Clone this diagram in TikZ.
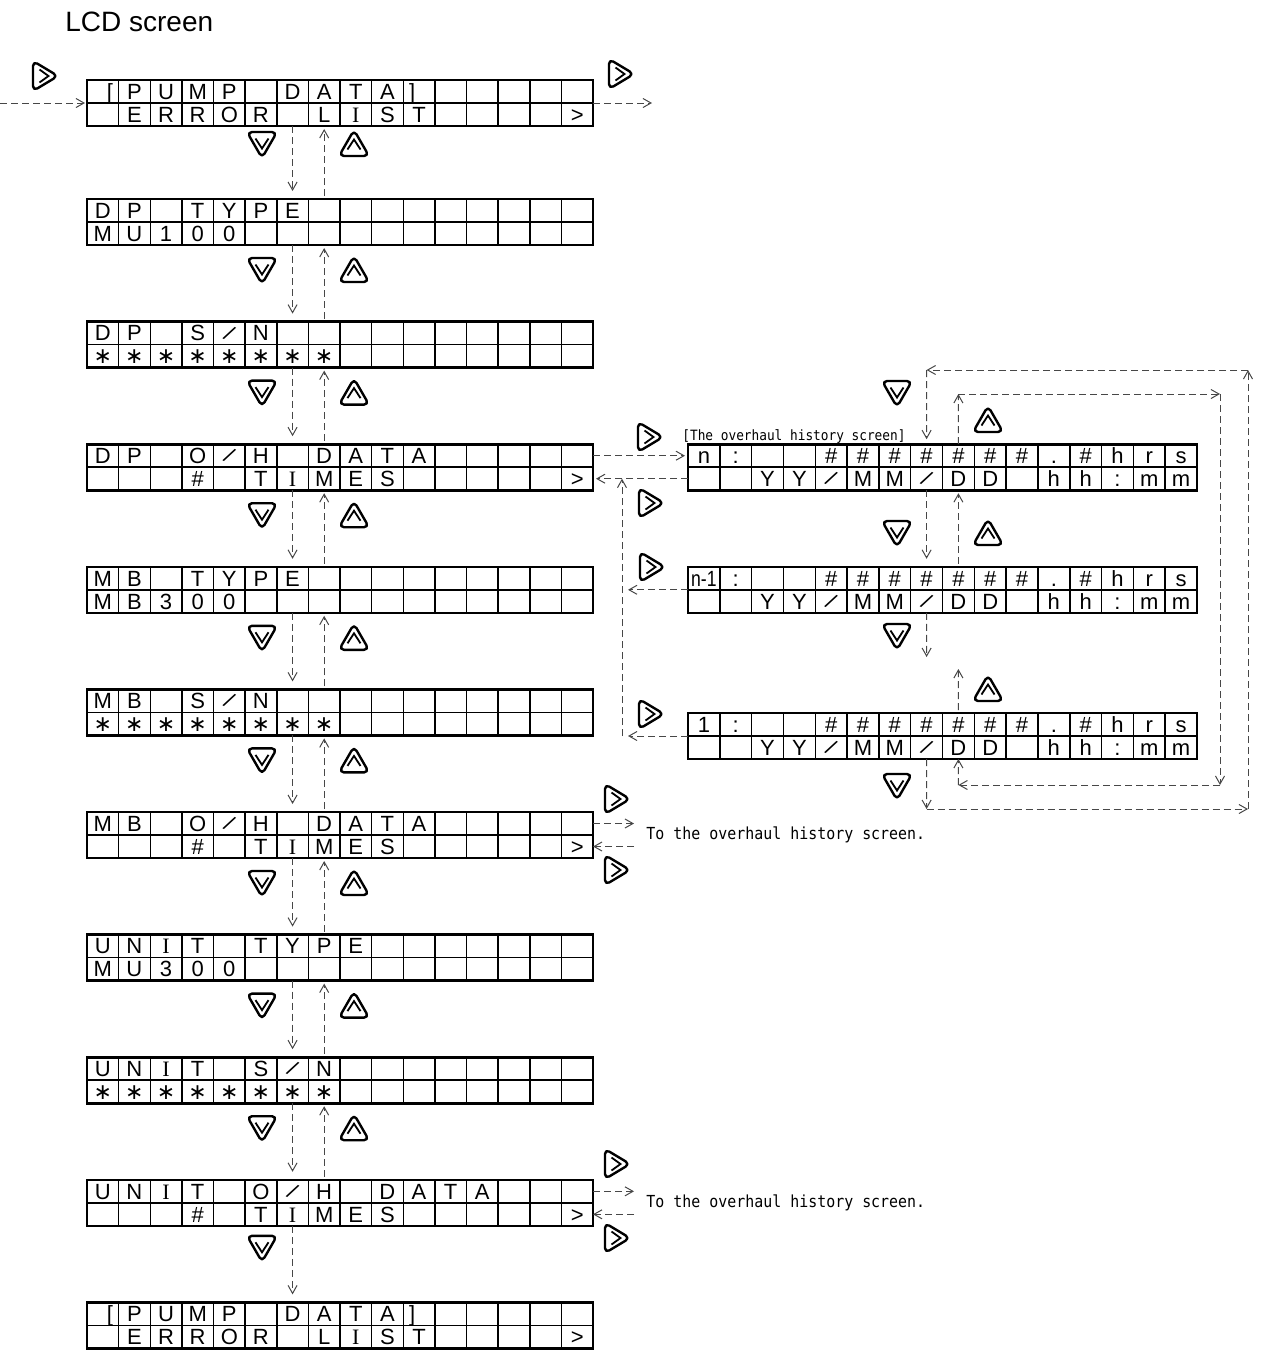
\documentclass[tikz,border=0pt]{standalone}
\usepackage{fontspec}
\usepackage{graphicx}
\setmainfont{Liberation Sans}
\newfontfamily\lcdserif{Liberation Serif}
\newfontfamily\lcdsym{DejaVu Sans}
\newfontfamily\notefont[FakeStretch=0.9]{DejaVu Sans Mono}
\usetikzlibrary{calc,arrows.meta,positioning}

% glyphs of the LCD cells
\newcommand\lcdsl{\rotatebox[origin=c]{-32}{/}}
\newcommand\lcdast{{\lcdsym ∗}}
\newcommand\lcdI{{\lcdserif I}}
\newcommand\lcdnm{\scalebox{0.8}[1]{n-1}}
\newcommand\lcdlb{\hspace*{7pt}[}
\newcommand\lcdrb{]\hspace*{7pt}}

% one LCD screen: 2 rows of 16 cells
\newcommand\lcd[6][]{%
  \node[lcd, #1, anchor=north west] (#2) at (#3,#4) {};
  \foreach \k in {1,...,15}
    \draw[lcdgrid] ($(#2.north west)!\k/16!(#2.north east)$) -- ($(#2.south west)!\k/16!(#2.south east)$);
  \draw[lcdgrid] (#2.west) -- (#2.east);
  \foreach \k/\c in {#5} {
    \pgfmathsetmacro\cf{(\k-0.5)/16}
    \node[lcdchar] (#2a\k) at ($(#2.north west)!\cf!(#2.north east)+(0,19.3)$) {\c};
  }
  \foreach \k/\c in {#6} {
    \pgfmathsetmacro\cf{(\k-0.5)/16}
    \node[lcdchar] (#2b\k) at ($(#2.west)!\cf!(#2.east)+(0,19.3)$) {\c};
  }
  \draw[lcdframe] (#2.north west) rectangle (#2.south east);
}

\begin{document}
\begin{tikzpicture}[x=0.5pt, y=-0.5pt,
    lcd/.style={minimum width=253pt, minimum height=23pt, inner sep=0pt, outer sep=0pt},
    hist/.style={minimum width=254.5pt},
    lcdgrid/.style={line width=0.75pt},
    lcdframe/.style={line width=1.3pt},
    lcdchar/.style={font=\fontsize{11pt}{12pt}\selectfont, inner sep=0pt, anchor=base},
    con/.style={draw=black!72, line width=0.5pt, dash pattern=on 3.5pt off 2pt},
    dncon/.style={con, ->, shorten >=4pt},
    upcon/.style={con, ->, shorten >=1.5pt, shorten <=1.5pt},
    notetext/.style={font=\notefont\fontsize{8.3pt}{10pt}\selectfont, inner sep=0pt, anchor=west},
    btn/.style={line width=1.2pt, rounded corners=2.5pt, line join=round},
    btnin/.style={line width=0.9pt},
    btnright/.pic={\draw[btn] (-11,-15) -- (14,0) -- (-11,15) -- cycle;
                   \draw[btnin] (-4.5,-6.5) -- (4.5,0) -- (-4.5,6.5);},
    btndown/.pic={\draw[btn] (-15,-12) -- (15,-12) -- (0,14) -- cycle;
                  \draw[btnin] (-6.5,-5.5) -- (0,4.5) -- (6.5,-5.5);},
    btnup/.pic={\draw[btn] (-15,12) -- (15,12) -- (0,-14) -- cycle;
                \draw[btnin] (-6.5,5.5) -- (0,-4.5) -- (6.5,5.5);},
    >={Straight Barb[length=4pt,width=4.5pt]}
  ]
  \useasboundingbox (0,0) rectangle (1264,1351);
  \node[anchor=west, inner sep=0pt, font=\fontsize{14pt}{16pt}\selectfont] (title) at (65,22) {LCD screen};

  % --- Menu screens ---
  \lcd{s1}{87}{80}{1/\lcdlb,2/P,3/U,4/M,5/P,7/D,8/A,9/T,10/A,11/\lcdrb}{2/E,3/R,4/R,5/O,6/R,8/L,9/\lcdI,10/S,11/T,16/>}
  \lcd{s2}{87}{199}{1/D,2/P,4/T,5/Y,6/P,7/E}{1/M,2/U,3/1,4/0,5/0}
  \lcd{s3}{87}{321.6}{1/D,2/P,4/S,5/\lcdsl,6/N}{1/\lcdast,2/\lcdast,3/\lcdast,4/\lcdast,5/\lcdast,6/\lcdast,7/\lcdast,8/\lcdast}
  \lcd{s4}{87}{444.2}{1/D,2/P,4/O,5/\lcdsl,6/H,8/D,9/A,10/T,11/A}{4/\#,6/T,7/\lcdI,8/M,9/E,10/S,16/>}
  \lcd{s5}{87}{566.8}{1/M,2/B,4/T,5/Y,6/P,7/E}{1/M,2/B,3/3,4/0,5/0}
  \lcd{s6}{87}{689.4}{1/M,2/B,4/S,5/\lcdsl,6/N}{1/\lcdast,2/\lcdast,3/\lcdast,4/\lcdast,5/\lcdast,6/\lcdast,7/\lcdast,8/\lcdast}
  \lcd{s7}{87}{812}{1/M,2/B,4/O,5/\lcdsl,6/H,8/D,9/A,10/T,11/A}{4/\#,6/T,7/\lcdI,8/M,9/E,10/S,16/>}
  \lcd{s8}{87}{934.6}{1/U,2/N,3/\lcdI,4/T,6/T,7/Y,8/P,9/E}{1/M,2/U,3/3,4/0,5/0}
  \lcd{s9}{87}{1057.2}{1/U,2/N,3/\lcdI,4/T,6/S,7/\lcdsl,8/N}{1/\lcdast,2/\lcdast,3/\lcdast,4/\lcdast,5/\lcdast,6/\lcdast,7/\lcdast,8/\lcdast}
  \lcd{s10}{87}{1179.8}{1/U,2/N,3/\lcdI,4/T,6/O,7/\lcdsl,8/H,10/D,11/A,12/T,13/A}{4/\#,6/T,7/\lcdI,8/M,9/E,10/S,16/>}
  \lcd{s11}{87}{1302.4}{1/\lcdlb,2/P,3/U,4/M,5/P,7/D,8/A,9/T,10/A,11/\lcdrb}{2/E,3/R,4/R,5/O,6/R,8/L,9/\lcdI,10/S,11/T,16/>}

  % --- Overhaul history screens ---
  \lcd[hist]{hn}{688}{444.2}{1/n,2/:,5/\#,6/\#,7/\#,8/\#,9/\#,10/\#,11/\#,12/.,13/\#,14/h,15/r,16/s}{3/Y,4/Y,5/\lcdsl,6/M,7/M,8/\lcdsl,9/D,10/D,12/h,13/h,14/:,15/m,16/m}
  \lcd[hist]{hm}{688}{566.8}{1/\lcdnm,2/:,5/\#,6/\#,7/\#,8/\#,9/\#,10/\#,11/\#,12/.,13/\#,14/h,15/r,16/s}{3/Y,4/Y,5/\lcdsl,6/M,7/M,8/\lcdsl,9/D,10/D,12/h,13/h,14/:,15/m,16/m}
  \lcd[hist]{h1}{688}{713}{1/1,2/:,5/\#,6/\#,7/\#,8/\#,9/\#,10/\#,11/\#,12/.,13/\#,14/h,15/r,16/s}{3/Y,4/Y,5/\lcdsl,6/M,7/M,8/\lcdsl,9/D,10/D,12/h,13/h,14/:,15/m,16/m}
  \node[notetext, font=\notefont\fontsize{7.1pt}{9pt}\selectfont] (histlabel) at (682,437) {[The overhaul history screen]};

  % --- Entry and exit ---
  \coordinate (entry) at (0,103);
  \coordinate (exit) at (652,103);
  \draw[con, ->, shorten >=1pt] (entry) -- (s1.west);
  \draw[con, ->] (s1.east) -- (exit);
  \pic at (44,76) {btnright};
  \pic at (620,74) {btnright};

  % --- Down / up between menu screens ---
  \foreach \a/\b/\o in {s1/s2/18,s2/s3/25,s3/s4/25,s4/s5/25,s5/s6/25,s6/s7/25,s7/s8/25,s8/s9/25,s9/s10/25} {
    \draw[dncon] ($(\a.south west)!6.5/16!(\a.south east)$) -- ($(\b.north west)!6.5/16!(\b.north east)$);
    \draw[upcon] ($(\b.north west)!7.5/16!(\b.north east)$) -- ($(\a.south west)!7.5/16!(\a.south east)$);
    \pic at ($(\a.south west)+(175,\o)$) {btndown};
    \pic at ($(\a.south west)+(267,\o)$) {btnup};
  }
  \draw[dncon] ($(s10.south west)!6.5/16!(s10.south east)$) -- ($(s11.north west)!6.5/16!(s11.north east)$);
  \pic at ($(s10.south west)+(175,22)$) {btndown};

  % --- DP O/H data to and from the history ---
  \draw[con, ->, shorten >=1.5pt] ($(s4.north east)!0.25!(s4.south east)$) -- ($(hn.north west)!0.25!(hn.south west)$);
  \draw[con, ->, shorten >=1.5pt] ($(hn.north west)!0.75!(hn.south west)$) -- ($(s4.north east)!0.75!(s4.south east)$);
  \coordinate (rtn) at (622,478.7);
  \draw[con, ->, shorten >=3pt] (hm.west) -- (hm.west -| rtn);
  \draw[con, ->, shorten >=3pt] (h1.west) -- (h1.west -| rtn);
  \draw[con, ->] (h1.west -| rtn) -- (rtn);
  \pic at (649,437) {btnright};
  \pic at (650,503) {btnright};
  \pic at (651,567) {btnright};
  \pic at (650,714) {btnright};

  % --- Down / up inside the history ---
  \draw[dncon] ($(hn.south west)!7.5/16!(hn.south east)$) -- ($(hm.north west)!7.5/16!(hm.north east)$);
  \draw[upcon] ($(hm.north west)!8.5/16!(hm.north east)$) -- ($(hn.south west)!8.5/16!(hn.south east)$);
  \coordinate (gapdn) at (926.6,657);
  \coordinate (gapup) at (958.4,666);
  \draw[con, ->] ($(hm.south west)!7.5/16!(hm.south east)$) -- (gapdn);
  \draw[upcon] ($(h1.north west)!8.5/16!(h1.north east)$) -- (gapup);
  \pic at (897,393) {btndown};
  \pic at (988,420) {btnup};
  \pic at (897,533) {btndown};
  \pic at (988,533) {btnup};
  \pic at (897,636) {btndown};
  \pic at (988,689) {btnup};
  \pic at (897,786) {btndown};

  % --- Wrap-around loops ---
  \coordinate (hnd) at ($(hn.north west)!7.5/16!(hn.north east)$);
  \coordinate (hnu) at ($(hn.north west)!8.5/16!(hn.north east)$);
  \coordinate (h1d) at ($(h1.south west)!7.5/16!(h1.south east)$);
  \coordinate (h1u) at ($(h1.south west)!8.5/16!(h1.south east)$);
  \coordinate (otl) at (926.6,370);
  \coordinate (otr) at (1248,370);
  \coordinate (obr) at (1248,809);
  \coordinate (obl) at (926.6,809);
  \coordinate (itl) at (958.4,394);
  \coordinate (itr) at (1220,394);
  \coordinate (ibr) at (1220,785);
  \coordinate (ibl) at (958.4,785);
  \draw[con, ->] (h1d) -- (obl);
  \draw[con, ->] (obl) -- (obr);
  \draw[con, ->] (obr) -- (otr);
  \draw[con, ->] (otr) -- (otl);
  \draw[con, ->, shorten >=2.5pt] (otl) -- (hnd);
  \draw[con, ->] (hnu) -- (itl);
  \draw[con, ->] (itl) -- (itr);
  \draw[con, ->] (itr) -- (ibr);
  \draw[con, ->] (ibr) -- (ibl);
  \draw[con, ->] (ibl) -- (h1u);

  % --- MB and UNIT O/H data ---
  \node[notetext, inner xsep=6pt] (tomb) at (634,835) {To the overhaul history screen.};
  \coordinate (s7a) at ($(s7.north east)!0.25!(s7.south east)$);
  \coordinate (s7b) at ($(s7.north east)!0.75!(s7.south east)$);
  \draw[con, ->] (s7a) -- (s7a -| tomb.west);
  \draw[con, ->] (s7b -| tomb.west) -- (s7b);
  \pic at (616,799) {btnright};
  \pic at (616,870) {btnright};

  \node[notetext, inner xsep=6pt] (tounit) at (634,1202.8) {To the overhaul history screen.};
  \coordinate (s10a) at ($(s10.north east)!0.25!(s10.south east)$);
  \coordinate (s10b) at ($(s10.north east)!0.75!(s10.south east)$);
  \draw[con, ->] (s10a) -- (s10a -| tounit.west);
  \draw[con, ->] (s10b -| tounit.west) -- (s10b);
  \pic at (616,1164) {btnright};
  \pic at (616,1238) {btnright};
\end{tikzpicture}
\end{document}
